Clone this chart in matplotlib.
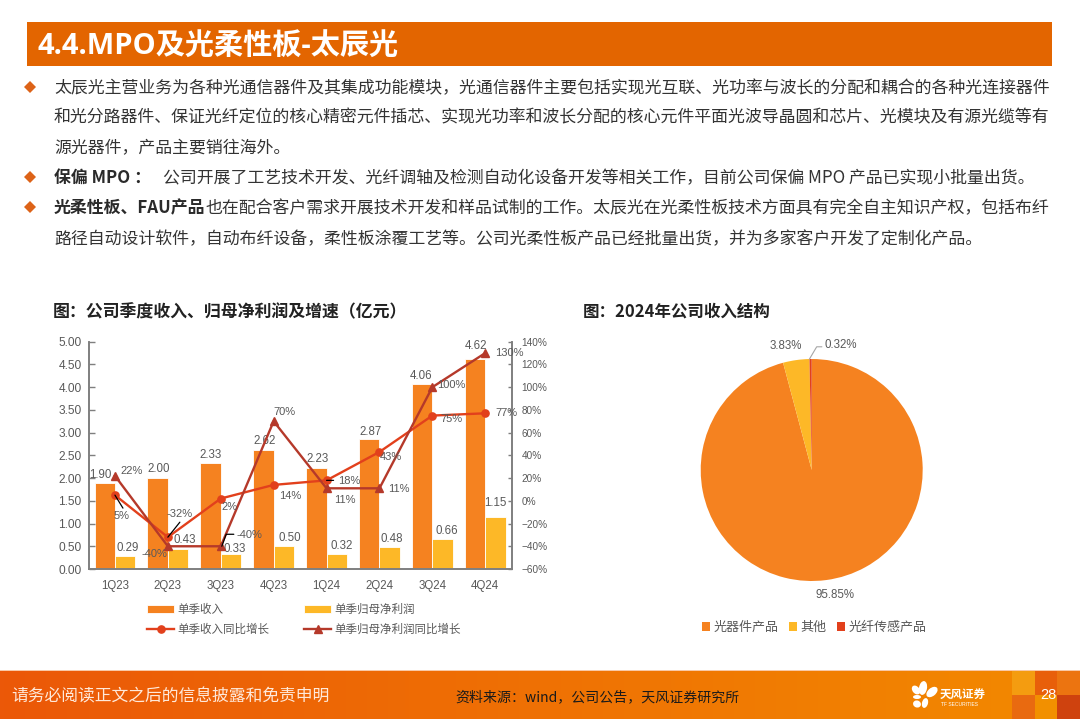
import numpy as np
import matplotlib
matplotlib.use("Agg")
import matplotlib.pyplot as plt
from matplotlib.patches import Rectangle, Polygon, Ellipse

plt.rcParams['font.family'] = ['Liberation Sans', 'Noto Sans CJK SC', 'DejaVu Sans']
CJK = ['Noto Sans CJK SC', 'DejaVu Sans']

quarters = ['1Q23', '2Q23', '3Q23', '4Q23', '1Q24', '2Q24', '3Q24', '4Q24']
revenue = [1.90, 2.00, 2.33, 2.62, 2.23, 2.87, 4.06, 4.62]
profit = [0.29, 0.43, 0.33, 0.50, 0.32, 0.48, 0.66, 1.15]
revenue_yoy = [5, -32, 2, 14, 18, 43, 75, 77]
profit_yoy = [22, -40, -40, 70, 11, 11, 100, 130]
left_ticks = [0, 0.5, 1, 1.5, 2, 2.5, 3, 3.5, 4, 4.5, 5]
right_ticks = [-60, -40, -20, 0, 20, 40, 60, 80, 100, 120, 140]
pie_labels = ['光器件产品', '其他', '光纤传感产品']
pie_values = [95.85, 3.83, 0.32]
pie_text = ['95.85%', '3.83%', '0.32%']

title = '4.4.MPO及光柔性板-太辰光'
bullets = [
    ('太辰光主营业务为各种光通信器件及其集成功能模块，光通信器件主要包括实现光互联、光功率与波长的分配和耦合的各种光连接器件', 88),
    ('和光分路器件、保证光纤定位的核心精密元件插芯、实现光功率和波长分配的核心元件平面光波导晶圆和芯片、光模块及有源光缆等有', 117),
    ('源光器件，产品主要销往海外。', 148),
    ('公司开展了工艺技术开发、光纤调轴及检测自动化设备开发等相关工作，目前公司保偏 MPO 产品已实现小批量出货。', 178),
    ('也在配合客户需求开展技术开发和样品试制的工作。太辰光在光柔性板技术方面具有完全自主知识产权，包括布纤', 208),
    ('路径自动设计软件，自动布纤设备，柔性板涂覆工艺等。公司光柔性板产品已经批量出货，并为多家客户开发了定制化产品。', 239),
]

W, H = 1080, 719
ORANGE, AMBER, RED, DARKRED = '#F58220', '#FDB827', '#E2401C', '#B5392A'
GREY = '#595959'

fig = plt.figure(figsize=(W / 100, H / 100), dpi=100, facecolor='white')

def box(l, t, r, b):
    return [l / W, 1 - b / H, (r - l) / W, (b - t) / H]

bg = fig.add_axes([0, 0, 1, 1], zorder=0)
bg.set_xlim(0, W); bg.set_ylim(H, 0); bg.axis('off')

# header
bg.add_patch(Rectangle((27, 22), 1025, 44, color='#E36500', lw=0))
bg.text(38, 47.5, title, color='white', fontsize=21, fontweight='bold', va='center', family=['Open Sans', 'Noto Sans CJK SC'])

# bullets
for y in (87, 177, 207):
    bg.add_patch(Polygon([(24, y), (30, y - 6), (36, y), (30, y + 6)], color='#DD6318', lw=0))
for txt, y in bullets:
    x = 54
    if y == 178:
        bg.text(x, y, '保偏 MPO ：', fontsize=12.2, fontweight='bold', va='center', color='#2a2a2a', family=CJK)
        x = 163
    if y == 208:
        bg.text(x, y, '光柔性板、FAU产品', fontsize=12.2, fontweight='bold', va='center', color='#2a2a2a', family=CJK)
        x = 205
    bg.text(x, y, txt, fontsize=12.2, va='center', color='#333333', family=CJK)

bg.text(53, 312, '图：公司季度收入、归母净利润及增速（亿元）', fontsize=12.2, fontweight='bold', va='center', color='#222222', family=CJK)
bg.text(583, 312, '图：2024年公司收入结构', fontsize=11.9, fontweight='bold', va='center', color='#222222', family=CJK)

# footer
grad = np.linspace(0, 1, 256)[None, :, None]
c0, c1 = np.array([235, 88, 8]) / 255, np.array([243, 138, 0]) / 255
bg.imshow(c0 + (c1 - c0) * grad, extent=(0, W, 719, 671), aspect='auto', zorder=1)
bg.set_xlim(0, W); bg.set_ylim(H, 0)
bg.add_patch(Rectangle((0, 669.5), W, 1.5, color='#F8C9A8', lw=0, zorder=2))
for l, t, w, h, col in [(1012, 671, 23, 24, '#F49C10'), (1035, 671, 22, 24, '#E85F0A'), (1057, 671, 23, 24, '#EC7410'),
                        (1012, 695, 23, 24, '#E96A10'), (1035, 695, 22, 24, '#F29000'), (1057, 695, 23, 24, '#CF420E')]:
    bg.add_patch(Rectangle((l, t), w, h, color=col, lw=0, zorder=2))
bg.text(11, 697, '请务必阅读正文之后的信息披露和免责申明', color='#FFE9DA', fontsize=12.1, va='center', zorder=3, family=CJK)
bg.text(455, 697, '资料来源：wind，公司公告，天风证券研究所', color='#1a1a1a', fontsize=10.05, va='center', zorder=3, family=CJK)
bg.text(1048, 695, '28', color='white', fontsize=10.5, va='center', ha='center', zorder=3)
for cx, cy, w, h, a in [(923, 688, 8, 14, 10), (932, 692, 8, 13, 50), (916, 690, 7, 10, -40), (917, 697, 8, 4, 0),
                        (917, 704, 8, 7, 20), (925, 703, 6, 10, 15)]:
    bg.add_patch(Ellipse((cx, cy), w, h, angle=a, color='white', lw=0, zorder=3))
bg.text(940, 695.5, '天风证券', color='white', fontsize=8.3, fontweight='bold', va='center', zorder=3, family=CJK)
bg.text(941, 704.5, 'TF SECURITIES', color='white', fontsize=3.6, va='center', zorder=3)

# combo chart
ax = fig.add_axes(box(88.5, 341.7, 511.7, 569), zorder=2)
ax.patch.set_alpha(0)
x = np.arange(len(quarters))
bw = 0.385
bars1 = ax.bar(x - bw / 2, revenue, bw, color=ORANGE, edgecolor='white', linewidth=0.6, label='单季收入')
bars2 = ax.bar(x + bw / 2, profit, bw, color=AMBER, edgecolor='white', linewidth=0.6, label='单季归母净利润')
ax.set_xlim(-0.5, 7.5); ax.set_ylim(0, 5)
ax.set_xticks(x, quarters); ax.set_yticks(left_ticks, [f'{v:.2f}' for v in left_ticks])
ax2 = ax.twinx()
ax2.set_zorder(3); ax2.patch.set_alpha(0)
ax2.set_ylim(-60, 140)
ax2.set_yticks(right_ticks, [f'{v}%'.replace('-', '−') for v in right_ticks])
l1, = ax2.plot(x, revenue_yoy, color=RED, lw=1.7, marker='o', ms=5.2, label='单季收入同比增长', zorder=3)
l2, = ax2.plot(x, profit_yoy, color=DARKRED, lw=1.7, marker='^', ms=6, label='单季归母净利润同比增长', zorder=4)
for a in (ax, ax2):
    for s in a.spines.values():
        s.set_color('#7F7F7F'); s.set_linewidth(1.2)
    a.spines['top'].set_visible(False)
ax.tick_params(axis='y', direction='in', length=4, width=1, color='#7F7F7F', labelsize=8.6, labelcolor=GREY, pad=5)
ax.tick_params(axis='x', length=0, labelsize=8.3, labelcolor=GREY, pad=8)
ax2.tick_params(axis='y', direction='in', length=3, width=1, color='#7F7F7F', labelsize=7.2, labelcolor=GREY, pad=7)

PT = 0.72
def lab(a, xv, yv, s, off, size=8.3):
    a.annotate(s, (xv, yv), xytext=(off[0] * PT, off[1] * PT), textcoords='offset points',
               ha='center', va='center', fontsize=size, color=GREY, zorder=10)

rev_off = [(-4, 8), (1.5, 9), (0, 8), (1, 9), (1, 9), (1, 7), (-1, 8), (1, 13)]
pro_off = [(3, 8), (7, 9), (4, 5), (6, 8), (5, 8), (2, 8), (4, 8), (0, 14)]
ryoy_off = [(7, -21), (12, 23), (9, -8), (17, -11), (23, -1), (11, -5), (19, -3), (21, 0)]
pyoy_off = [(17, 5), (-13, -8), (29, 11), (11, 9), (18, -12), (19, -1), (19, 2), (24, 0)]
for i in range(len(quarters)):
    lab(ax, x[i] - bw / 2, revenue[i], f'{revenue[i]:.2f}', rev_off[i])
    lab(ax, x[i] + bw / 2, profit[i], f'{profit[i]:.2f}', pro_off[i])
    lab(ax2, x[i], revenue_yoy[i], f'{revenue_yoy[i]}%', ryoy_off[i], 8)
    lab(ax2, x[i], profit_yoy[i], f'{profit_yoy[i]}%', pyoy_off[i], 8)

for i, end in [(0, (8, -13)), (1, (12, 15)), (4, (7, 0))]:
    ax2.annotate('', (x[i], revenue_yoy[i]), xytext=(end[0] * PT, end[1] * PT), textcoords='offset points',
                 arrowprops=dict(arrowstyle='-', color='black', lw=0.9, shrinkA=0, shrinkB=0), zorder=9)
ax2.annotate('', (x[2] + 0.02, profit_yoy[2]), xytext=(12 * PT, 12 * PT), textcoords='offset points',
             arrowprops=dict(arrowstyle='-', color='black', lw=0.9, shrinkA=0, shrinkB=0,
                             connectionstyle='angle,angleA=0,angleB=70,rad=0'), zorder=9)

fig.legend([bars1, l1, bars2, l2], ['单季收入', '单季收入同比增长', '单季归母净利润', '单季归母净利润同比增长'],
           ncol=2, loc='upper left', bbox_to_anchor=(147 / W, 1 - 603 / H), frameon=False,
           prop={'family': CJK, 'size': 8.3}, labelcolor=GREY, borderpad=0, borderaxespad=0,
           handlelength=2.35, handletextpad=0.3, columnspacing=3.0, labelspacing=0.6)

# pie
pa = fig.add_axes(box(700.7, 359, 922.7, 581), zorder=2)
wedges, _ = pa.pie(pie_values, colors=[ORANGE, AMBER, RED], startangle=90, counterclock=False, radius=1,
                   wedgeprops=dict(edgecolor='none', linewidth=0))
pa.set_xlim(-1, 1); pa.set_ylim(-1, 1); pa.set_aspect('equal')
lab_kw = dict(fontsize=8.3, color=GREY, ha='center', va='center')
pa.text(0.21, -1.126, pie_text[0], **lab_kw)
pa.text(-0.23, 1.12, pie_text[1], **lab_kw)
pa.text(0.26, 1.125, pie_text[2], **lab_kw)
pa.plot([-0.02, 0.045, 0.09], [1.0, 1.11, 1.11], color='#A6A6A6', lw=0.8, clip_on=False)

fig.legend(wedges, pie_labels, ncol=3, loc='upper left', bbox_to_anchor=(702 / W, 1 - 621 / H), frameon=False,
           prop={'family': CJK, 'size': 9.4}, labelcolor=GREY, borderpad=0, borderaxespad=0,
           handlelength=0.6, handleheight=0.6, handletextpad=0.25, columnspacing=0.85)

fig.savefig('out.png', dpi=100)
